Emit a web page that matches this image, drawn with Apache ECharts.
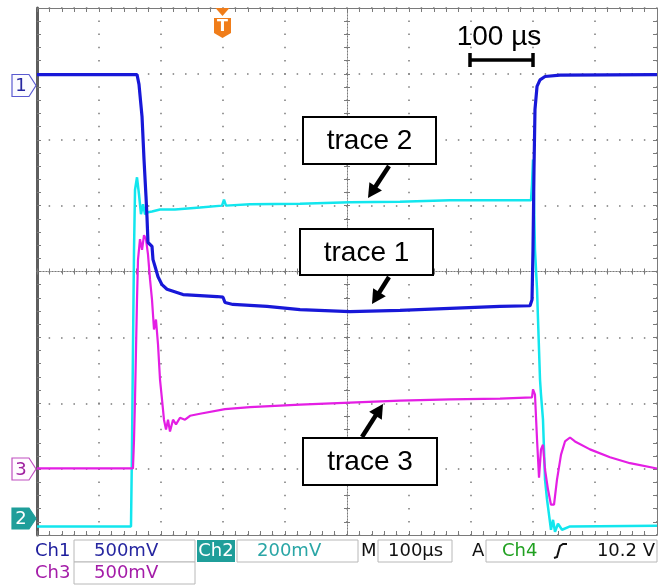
<!DOCTYPE html>
<html><head><meta charset="utf-8">
<script src="https://cdn.jsdelivr.net/npm/echarts@6/dist/echarts.min.js"></script>
<style>html,body{margin:0;padding:0;background:#fff}#c{width:665px;height:585px}</style>
</head><body><div id="c"></div>
<script>
// time in µs from left edge of screen (100 µs/div), value in divisions from screen centre
const ch1Time = [0,161.3,164.5,169.4,172.6,175.8,177.4,179.0,185.5,187.1,190.3,195.2,201.6,209.7,235.5,290.3,300.0,303.2,316.1,371.0,424.2,504.8,585.5,666.1,746.8,795.2,798.4,800.0,801.6,803.2,806.5,811.3,819.4,843.5,1000];
const ch1Div  = [2.99,2.99,2.84,2.35,1.70,1.14,0.83,0.44,0.38,0.18,0.08,-0.08,-0.20,-0.27,-0.35,-0.38,-0.39,-0.47,-0.50,-0.53,-0.58,-0.61,-0.59,-0.56,-0.53,-0.52,-0.43,0.33,1.55,2.46,2.81,2.91,2.96,2.98,2.99];
const ch2Time = [0,151.6,153.2,154.8,156.5,158.1,161.3,164.5,167.7,171.0,174.2,179.0,185.5,198.4,222.6,262.9,298.4,301.6,304.8,343.5,424.2,504.8,585.5,666.1,746.8,796.8,798.4,800.0,801.6,803.2,806.5,808.1,811.3,812.9,816.1,819.4,822.6,825.8,829.0,832.3,835.5,840.3,846.8,859.7,1000];
const ch2Div  = [-3.87,-3.87,-2.70,-1.18,0.33,1.24,1.43,1.17,0.87,1.02,0.87,0.90,0.91,0.94,0.94,0.97,1.00,1.09,1.00,1.02,1.03,1.05,1.06,1.08,1.08,1.08,1.32,1.70,1.09,0.33,-0.27,-0.73,-1.64,-1.87,-2.25,-3.16,-3.46,-3.69,-3.92,-3.77,-3.95,-3.83,-3.92,-3.87,-3.86];
const ch3Time = [0,154.8,156.5,158.1,159.7,161.3,162.9,166.1,169.4,172.6,175.8,179.0,182.3,185.5,188.7,191.9,195.2,198.4,201.6,204.8,208.1,211.3,214.5,219.4,224.2,230.6,238.7,246.8,262.9,303.2,343.5,424.2,504.8,585.5,666.1,746.8,798.4,800.0,803.2,806.5,809.7,812.9,816.1,819.4,824.2,829.0,833.9,838.7,845.2,851.6,859.7,867.7,891.9,924.2,956.5,1000];
const ch3Div  = [-2.99,-2.99,-2.55,-1.94,-1.18,-0.43,0.18,0.49,0.33,0.55,0.49,0.26,-0.12,-0.43,-0.88,-0.73,-1.11,-1.64,-1.94,-2.25,-2.40,-2.25,-2.43,-2.25,-2.32,-2.22,-2.25,-2.19,-2.16,-2.09,-2.06,-2.02,-1.99,-1.96,-1.94,-1.93,-1.91,-1.79,-1.87,-2.55,-3.13,-2.70,-2.63,-3.01,-3.31,-3.54,-3.54,-3.16,-2.78,-2.58,-2.52,-2.58,-2.70,-2.82,-2.91,-2.99];
const xMin = 0, xMax = 1000, xStep = 100;
const yMin = -4, yMax = 4, yStep = 1;
const statusRow1 = ['Ch1','500mV','Ch2','200mV','M','100µs','A','Ch4','10.2 V'];
const statusRow2 = ['Ch3','500mV'];
const traceLabels = ['trace 1','trace 2','trace 3'];
const scaleLabel = '100 µs';

const zip = (a, b) => a.map((t, i) => [t, b[i]]);
const GC = '#7a7a7a';
function xAx(pos, extra) {
  return Object.assign({
    type: 'value', min: xMin, max: xMax, interval: xStep, position: pos,
    axisLabel: { show: false },
    axisLine: { show: true, onZero: false, lineStyle: { color: GC, width: 1 } },
    axisTick: { show: true, inside: true, length: 4, lineStyle: { color: GC } },
    minorTick: { show: true, splitNumber: 5, length: 4, lineStyle: { color: GC } },
    splitLine: { show: false }
  }, extra || {});
}
function yAx(pos, extra) {
  return Object.assign({
    type: 'value', min: yMin, max: yMax, interval: yStep, position: pos,
    axisLabel: { show: false },
    axisLine: { show: true, onZero: false, lineStyle: { color: GC, width: 1 } },
    axisTick: { show: true, inside: true, length: 4, lineStyle: { color: GC } },
    minorTick: { show: true, splitNumber: 5, length: 4, lineStyle: { color: GC } },
    splitLine: { show: false }
  }, extra || {});
}
const centreLine = { show: true, onZero: false, lineStyle: { color: GC, width: 1, type: [1, 2] } };

const chart = echarts.init(document.getElementById('c'), null, { renderer: 'canvas' });

function arrow(x1, y1, x2, y2) {
  const dx = x2 - x1, dy = y2 - y1, L = Math.hypot(dx, dy);
  const ux = dx / L, uy = dy / L, nx = -uy, ny = ux;
  const hl = 14, hw = 7.5;
  const bx = x2 - hl * ux, by = y2 - hl * uy;
  return [
    { type: 'line', z: 100, shape: { x1: x1, y1: y1, x2: bx + ux * 2, y2: by + uy * 2 }, style: { stroke: '#000', lineWidth: 4.5 } },
    { type: 'polygon', z: 100, shape: { points: [[x2, y2], [bx + hw * nx, by + hw * ny], [bx - hw * nx, by - hw * ny]] }, style: { fill: '#000' } }
  ];
}
function labelBox(x, y, w, h, txt) {
  return [
    { type: 'rect', z: 100, shape: { x: x, y: y, width: w, height: h }, style: { fill: '#fff', stroke: '#000', lineWidth: 2 } },
    { type: 'text', z: 101, style: { text: txt, x: x + w / 2, y: y + h / 2 + 1, align: 'center', verticalAlign: 'middle', font: '28px "Liberation Sans", Arial, sans-serif', fill: '#000' } }
  ];
}
function chMarker(y, h, stroke, fill, textFill, txt) {
  return [
    { type: 'polygon', z: 100, shape: { points: [[12, y - h], [29, y - h], [36, y], [29, y + h], [12, y + h]] }, style: { fill: fill, stroke: stroke, lineWidth: 1.2 } },
    { type: 'text', z: 101, style: { text: txt, x: 21, y: y + 1, align: 'center', verticalAlign: 'middle', font: '18px "DejaVu Sans", sans-serif', fill: textFill } }
  ];
}
function sbox(x, y, w, h) {
  return { type: 'rect', z: 100, shape: { x: x, y: y, width: w, height: h }, style: { fill: '#fff', stroke: '#b8b8b8', lineWidth: 1 } };
}
function stext(x, y, txt, color, align) {
  return { type: 'text', z: 101, style: { text: txt, x: x, y: y, align: align || 'left', verticalAlign: 'middle', font: '18px "DejaVu Sans", sans-serif', fill: color } };
}

let graphics = [];
// status bar
graphics.push(stext(35, 551, statusRow1[0], '#1c1c9c'));
graphics.push(sbox(74, 540, 121, 22));
graphics.push(stext(94, 551, statusRow1[1], '#2626a0'));
graphics.push({ type: 'rect', z: 100, shape: { x: 197, y: 540, width: 38, height: 22 }, style: { fill: '#1f9e9a' } });
graphics.push(stext(216, 551, statusRow1[2], '#ffffff', 'center'));
graphics.push(sbox(237, 540, 121, 22));
graphics.push(stext(257, 551, statusRow1[3], '#2aa6a6'));
graphics.push(stext(361, 551, statusRow1[4], '#111'));
graphics.push(sbox(378, 540, 74, 22));
graphics.push(stext(388, 551, statusRow1[5], '#111'));
graphics.push(stext(472, 551, statusRow1[6], '#111'));
graphics.push(sbox(486, 540, 171, 22));
graphics.push(stext(502, 551, statusRow1[7], '#20a020'));
graphics.push({ type: 'polyline', z: 101, shape: { points: [[554, 558], [557, 557], [560, 546], [563, 544], [567, 544]] }, style: { stroke: '#111', lineWidth: 2, fill: null } });
graphics.push(stext(655, 551, statusRow1[8], '#111', 'right'));
graphics.push(stext(35, 573, statusRow2[0], '#a41ca8'));
graphics.push(sbox(74, 562, 121, 22));
graphics.push(stext(94, 573, statusRow2[1], '#a41ca8'));
// channel markers
graphics = graphics.concat(chMarker(85.5, 11, '#5a5ad0', '#fbfbff', '#2626a0', '1'));
graphics = graphics.concat(chMarker(469, 11, '#c050c0', '#fffbff', '#a020a0', '3'));
graphics = graphics.concat(chMarker(518.5, 10.5, '#1f9e9a', '#1f9e9a', '#ffffff', '2'));
// trigger marker
graphics.push({ type: 'polygon', z: 100, shape: { points: [[215.5, 8], [229.5, 8], [222.5, 16]] }, style: { fill: '#f07d1a' } });
graphics.push({ type: 'polygon', z: 100, shape: { points: [[214, 18], [231, 18], [231, 33], [222.5, 38], [214, 33]] }, style: { fill: '#f07d1a' } });
graphics.push({ type: 'text', z: 101, style: { text: 'T', x: 222.5, y: 27, align: 'center', verticalAlign: 'middle', font: 'bold 16px "DejaVu Sans", sans-serif', fill: '#fff' } });
// scale bar
graphics.push({ type: 'text', z: 101, style: { text: scaleLabel, x: 499, y: 37, align: 'center', verticalAlign: 'middle', font: '28px "Liberation Sans", Arial, sans-serif', fill: '#000' } });
graphics.push({ type: 'line', z: 100, shape: { x1: 470, y1: 60, x2: 533, y2: 60 }, style: { stroke: '#000', lineWidth: 3.5 } });
graphics.push({ type: 'line', z: 100, shape: { x1: 470, y1: 53, x2: 470, y2: 67 }, style: { stroke: '#000', lineWidth: 3.5 } });
graphics.push({ type: 'line', z: 100, shape: { x1: 533, y1: 53, x2: 533, y2: 67 }, style: { stroke: '#000', lineWidth: 3.5 } });
// annotations
graphics = graphics.concat(labelBox(303, 117, 133, 47, traceLabels[1]));
graphics = graphics.concat(arrow(389, 166, 368, 198));
graphics = graphics.concat(labelBox(300, 229, 133, 46, traceLabels[0]));
graphics = graphics.concat(arrow(389, 277, 372, 304));
graphics = graphics.concat(labelBox(303, 438, 134, 47, traceLabels[2]));
graphics = graphics.concat(arrow(362, 437, 383, 404));

chart.setOption({
  animation: false,
  backgroundColor: '#fff',
  grid: { left: 37, top: 8, width: 620, height: 527, show: false },
  xAxis: [
    xAx('bottom', { splitLine: { show: true, lineStyle: { color: GC, width: 1.5, type: [1.5, 11.675], dashOffset: 0.75 } } }),
    xAx('top'),
    xAx('bottom', { offset: -263.5, axisLine: centreLine, axisTick: { show: true, inside: true, length: 3, lineStyle: { color: GC } }, minorTick: { show: true, splitNumber: 5, length: 3, lineStyle: { color: GC } } }),
    xAx('top', { offset: -263.5, axisLine: centreLine, axisTick: { show: true, inside: true, length: 3, lineStyle: { color: GC } }, minorTick: { show: true, splitNumber: 5, length: 3, lineStyle: { color: GC } } })
  ],
  yAxis: [
    yAx('left', { axisLine: { show: true, onZero: false, lineStyle: { color: '#5e5e5e', width: 3 } }, splitLine: { show: true, lineStyle: { color: GC, width: 1.5, type: [1.5, 10.9], dashOffset: 0.75 } } }),
    yAx('right'),
    yAx('left', { offset: -310, axisLine: centreLine, axisTick: { show: true, inside: true, length: 3, lineStyle: { color: GC } }, minorTick: { show: true, splitNumber: 5, length: 3, lineStyle: { color: GC } } }),
    yAx('right', { offset: -310, axisLine: centreLine, axisTick: { show: true, inside: true, length: 3, lineStyle: { color: GC } }, minorTick: { show: true, splitNumber: 5, length: 3, lineStyle: { color: GC } } })
  ],
  series: [
    { name: 'Ch2', type: 'line', xAxisIndex: 0, yAxisIndex: 0, data: zip(ch2Time, ch2Div), showSymbol: false, lineStyle: { color: '#12e6ee', width: 2.5 }, z: 5 },
    { name: 'Ch3', type: 'line', xAxisIndex: 0, yAxisIndex: 0, data: zip(ch3Time, ch3Div), showSymbol: false, lineStyle: { color: '#e41ee4', width: 2.2 }, z: 6 },
    { name: 'Ch1', type: 'line', xAxisIndex: 0, yAxisIndex: 0, data: zip(ch1Time, ch1Div), showSymbol: false, lineStyle: { color: '#1818d8', width: 3.2 }, z: 7 }
  ],
  graphic: graphics
});
</script></body></html>
